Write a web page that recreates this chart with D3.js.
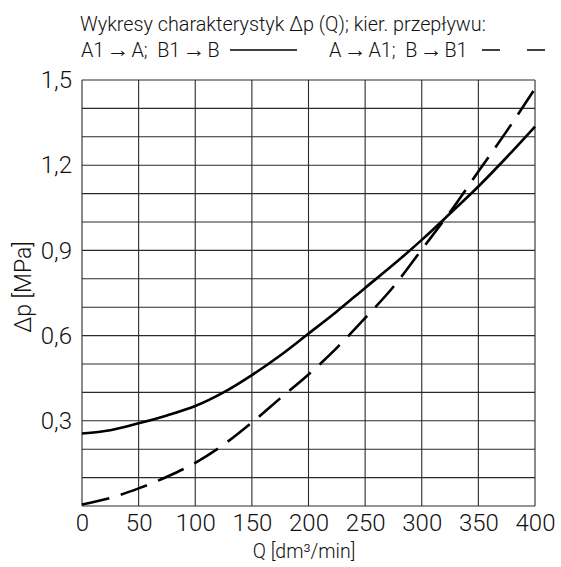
<!DOCTYPE html>
<meta charset="utf-8">
<html>
<script src="https://d3js.org/d3.v7.min.js"></script>
<style>
    body { margin: 0; background: #fff; }
    text { font-family: "Roboto", sans-serif; font-weight: 300; fill: #111; }
    .arr { font-family: "Liberation Sans", sans-serif; font-weight: normal; }
</style>
<body>
<div id="chart"></div>
<script>
// data
var flowQ = [0, 25, 50, 75, 100, 125, 150, 175, 200, 225, 250, 275, 300, 325, 350, 375, 400];
var dpSolid = [0.255, 0.267, 0.291, 0.319, 0.352, 0.40, 0.461, 0.53, 0.607, 0.685, 0.768, 0.85, 0.937, 1.03, 1.125, 1.228, 1.336];
var dpDashed = [0.005, 0.028, 0.062, 0.103, 0.152, 0.216, 0.294, 0.379, 0.463, 0.557, 0.662, 0.772, 0.903, 1.035, 1.178, 1.32, 1.47];
var xTicks = [0, 50, 100, 150, 200, 250, 300, 350, 400];
var yTicks = [0.3, 0.6, 0.9, 1.2, 1.5];
var yGrid = [0, 0.1, 0.2, 0.3, 0.4, 0.5, 0.6, 0.7, 0.8, 0.9, 1.0, 1.1, 1.2, 1.3, 1.4, 1.5];

var margin = { top: 80, right: 26, bottom: 61, left: 82 },
    width = 561 - margin.left - margin.right,
    height = 567 - margin.top - margin.bottom;

var svg = d3.select("#chart")
    .append("svg")
    .attr("width", 561)
    .attr("height", 567);

var g = svg.append("g")
    .attr("transform", "translate(" + margin.left + "," + margin.top + ")");

var x = d3.scaleLinear().domain([0, 400]).range([0, width]);
var y = d3.scaleLinear().domain([0, 1.5]).range([height, 0]);

// grid
g.selectAll(".vgrid").data(xTicks).enter().append("line")
    .attr("x1", function (d) { return x(d); })
    .attr("x2", function (d) { return x(d); })
    .attr("y1", 0).attr("y2", height)
    .attr("stroke", "#2a2a2a").attr("stroke-width", 1.1);
g.selectAll(".hgrid").data(yGrid).enter().append("line")
    .attr("x1", 0).attr("x2", width)
    .attr("y1", function (d) { return y(d); })
    .attr("y2", function (d) { return y(d); })
    .attr("stroke", "#2a2a2a").attr("stroke-width", 1.1);

// axes (labels only)
var fmt = function (d) { return d3.format(".1f")(d).replace(".", ","); };
var xAxis = g.append("g")
    .attr("transform", "translate(0," + height + ")")
    .call(d3.axisBottom(x).tickValues(xTicks).tickSize(0).tickPadding(8).tickFormat(d3.format("d")));
var yAxis = g.append("g")
    .call(d3.axisLeft(y).tickValues(yTicks).tickSize(0).tickPadding(10).tickFormat(fmt));
[xAxis, yAxis].forEach(function (a) {
    a.select(".domain").remove();
    a.selectAll("text").style("font-family", "Roboto, sans-serif").style("font-weight", 300)
        .style("font-size", "24px").attr("fill", "#111");
});

// curves
var line = d3.line()
    .x(function (d) { return x(d[0]); })
    .y(function (d) { return y(d[1]); })
    .curve(d3.curveMonotoneX);

g.append("path")
    .datum(flowQ.map(function (q, i) { return [q, dpSolid[i]]; }))
    .attr("fill", "none").attr("stroke", "#000").attr("stroke-width", 2.6)
    .attr("d", line);

g.append("path")
    .datum(flowQ.map(function (q, i) { return [q, dpDashed[i]]; }))
    .attr("fill", "none").attr("stroke", "#000").attr("stroke-width", 2.6)
    .attr("stroke-dasharray", "28,12")
    .attr("d", line);

// axis titles
svg.append("text")
    .attr("transform", "translate(31," + (margin.top + height / 2 - 6) + ") rotate(-90)")
    .attr("text-anchor", "middle")
    .style("font-size", "23px")
    .text("Δp [MPa]");

svg.append("text")
    .attr("x", 304).attr("y", 558)
    .attr("text-anchor", "middle")
    .style("font-size", "19.5px")
    .text("Q [dm³/min]");

// heading + legend
svg.append("text")
    .attr("x", 80).attr("y", 31)
    .style("font-size", "19.8px")
    .text("Wykresy charakterystyk Δp (Q); kier. przepływu:");

function legendText(xPos, parts) {
    var t = svg.append("text")
        .attr("x", xPos).attr("y", 57)
        .style("font-size", "19.8px")
        .attr("xml:space", "preserve");
    parts.forEach(function (p, i) {
        t.append("tspan").text((i > 0 ? "\u200A" : "") + p + (i < parts.length - 1 ? "\u200A" : ""));
        if (i < parts.length - 1) {
            t.append("tspan").attr("class", "arr").style("font-size", "23px").text("→");
        }
    });
    return t;
}
legendText(81, ["A1", "A;  B1", "B"]);
svg.append("line")
    .attr("x1", 230).attr("x2", 297).attr("y1", 50).attr("y2", 50)
    .attr("stroke", "#000").attr("stroke-width", 1.6);

legendText(329, ["A", "A1;  B", "B1"]);
svg.append("line")
    .attr("x1", 482).attr("x2", 545).attr("y1", 50).attr("y2", 50)
    .attr("stroke", "#000").attr("stroke-width", 1.6)
    .attr("stroke-dasharray", "18,27");
</script>
</body>
</html>
